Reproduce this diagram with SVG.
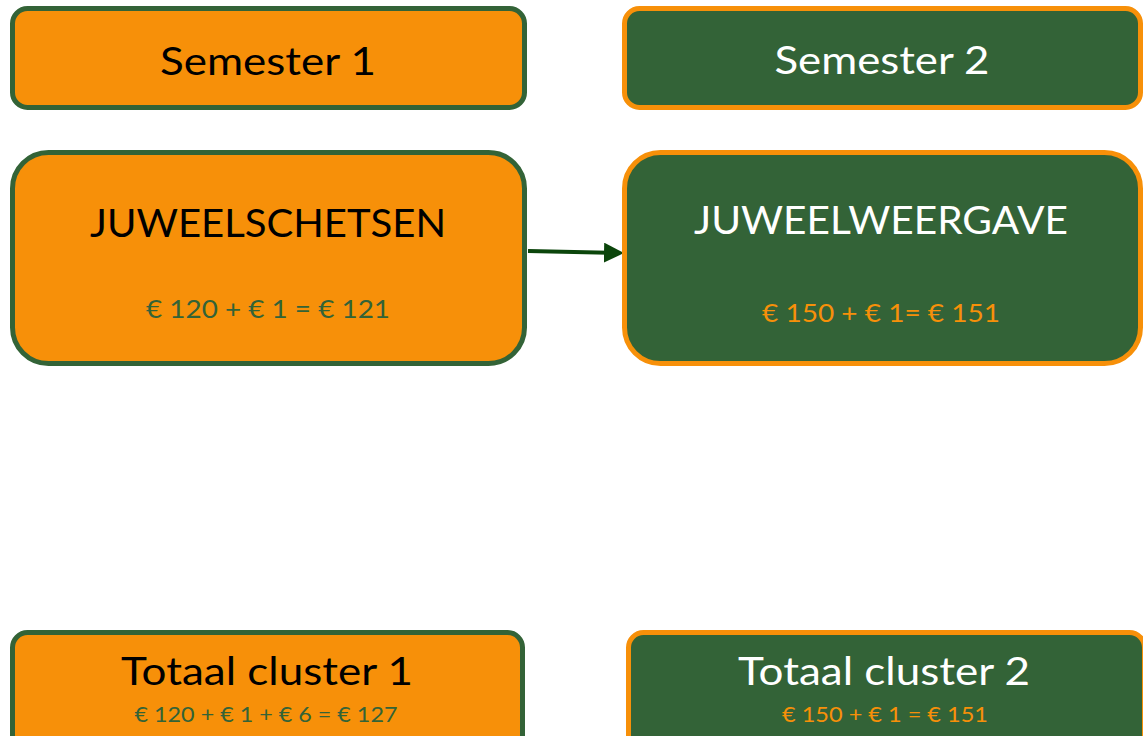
<svg xmlns="http://www.w3.org/2000/svg" width="1143" height="736" viewBox="0 0 1143 736">
<style>
.o{fill:#F79009;stroke:#336337;stroke-width:5}
.g{fill:#336337;stroke:#F79009;stroke-width:5}
text{font-family:Lato,"Open Sans","Liberation Sans",sans-serif;text-anchor:middle}
.t{font-size:38px}
.s{font-size:25px}
.ss{font-size:21px}
.k{fill:#000}
.w{fill:#fff}
.gt{fill:#336337}
.ot{fill:#F79009}
</style>
<defs>
<marker id="ah" markerWidth="5" markerHeight="5" refX="4" refY="2.5" orient="auto" markerUnits="strokeWidth">
<path d="M0,0 L5,2.5 L0,5 z" fill="#0B450B"/>
</marker>
</defs>
<rect width="1143" height="736" fill="#fff"/>
<g id="connectors">
<line x1="528" y1="251" x2="620" y2="253" stroke="#0B450B" stroke-width="4" marker-end="url(#ah)"/>
</g>
<g id="sem1">
<rect class="o" x="12.5" y="8.5" width="512" height="99" rx="15"/>
<text class="t k" x="268" y="75" textLength="216" lengthAdjust="spacingAndGlyphs">Semester 1</text>
</g>
<g id="sem2">
<rect class="g" x="624.5" y="8.5" width="516" height="99" rx="15"/>
<text class="t w" x="882" y="74" textLength="215" lengthAdjust="spacingAndGlyphs">Semester 2</text>
</g>
<g id="juweelschetsen">
<rect class="o" x="12.5" y="152.5" width="512" height="211" rx="36"/>
<text class="t k" x="268" y="237" textLength="356" lengthAdjust="spacingAndGlyphs">JUWEELSCHETSEN</text>
<text class="s gt" x="268" y="318" textLength="244" lengthAdjust="spacingAndGlyphs">€ 120 + € 1 = € 121</text>
</g>
<g id="juweelweergave">
<rect class="g" x="624.5" y="152.5" width="516" height="211" rx="36"/>
<text class="t w" x="881" y="234" textLength="374" lengthAdjust="spacingAndGlyphs">JUWEELWEERGAVE</text>
<text class="s ot" x="881" y="322" textLength="238" lengthAdjust="spacingAndGlyphs">€ 150 + € 1= € 151</text>
</g>
<g id="totaal1">
<rect class="o" x="12.5" y="632.5" width="510" height="120" rx="15"/>
<text class="t k" x="267" y="685" textLength="292" lengthAdjust="spacingAndGlyphs">Totaal cluster 1</text>
<text class="ss gt" x="266" y="722" textLength="263" lengthAdjust="spacingAndGlyphs">€ 120 + € 1 + € 6 = € 127</text>
</g>
<g id="totaal2">
<rect class="g" x="628.5" y="632.5" width="516" height="120" rx="15"/>
<text class="t w" x="884" y="685" textLength="292" lengthAdjust="spacingAndGlyphs">Totaal cluster 2</text>
<text class="ss ot" x="885" y="722" textLength="206" lengthAdjust="spacingAndGlyphs">€ 150 + € 1 = € 151</text>
</g>
</svg>
